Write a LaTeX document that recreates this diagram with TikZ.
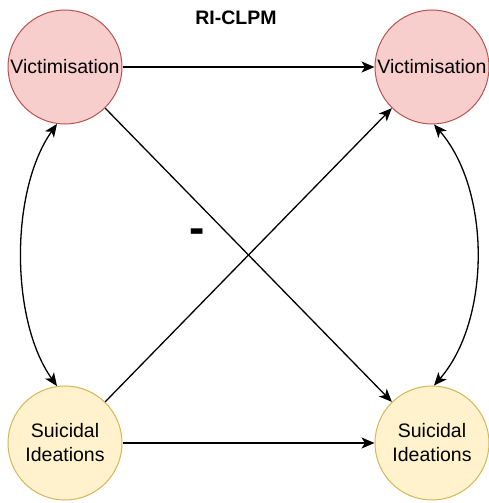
\documentclass[tikz,border=0pt]{standalone}
\usepackage{fontspec}
\setmainfont{Liberation Sans}
\usetikzlibrary{arrows.meta}
\definecolor{redfill}{HTML}{F8CECC}
\definecolor{redline}{HTML}{B85450}
\definecolor{yelfill}{HTML}{FFF2CC}
\definecolor{yelline}{HTML}{D6B656}
\tikzset{
  latent/.style={circle, minimum size=114pt, inner sep=0pt, line width=1pt, align=center, font=\fontsize{19.5}{24}\selectfont},
  vict/.style={latent, draw=redline, fill=redfill},
  suic/.style={latent, draw=yelline, fill=yelfill},
  conn/.style={line width=1.3pt, -{Stealth[length=13pt,width=11pt,inset=3.5pt]}},
  bconn/.style={line width=1.3pt, {Stealth[length=13pt,width=11pt,inset=3.5pt]}-{Stealth[length=13pt,width=11pt,inset=3.5pt]}}
}
\begin{document}
\begin{tikzpicture}[x=1pt,y=-1pt]
\useasboundingbox (0,0) rectangle (489,503);
\node[font=\fontsize{19.5}{22}\selectfont\bfseries] (title) at (236,18) {RI-CLPM};
\node[vict] (v1) at (65,67) {Victimisation};
\node[vict] (v2) at (432,67) {Victimisation};
\node[suic] (s1) at (65,443) {Suicidal\\Ideations};
\node[suic] (s2) at (432,443) {Suicidal\\Ideations};
\node[font=\fontsize{46}{46}\selectfont\bfseries] (minus) at (197,236) {-};
\draw[conn] (v1) -- (v2);
\draw[conn] (s1) -- (s2);
\draw[conn] (v1) -- (s2);
\draw[conn] (s1) -- (v2);
\draw[bconn] (v1.262) .. controls (10,190) and (10,320) .. (s1.98);
\draw[bconn] (v2.272) .. controls (491,190) and (491,320) .. (s2.88);
\end{tikzpicture}
\end{document}
